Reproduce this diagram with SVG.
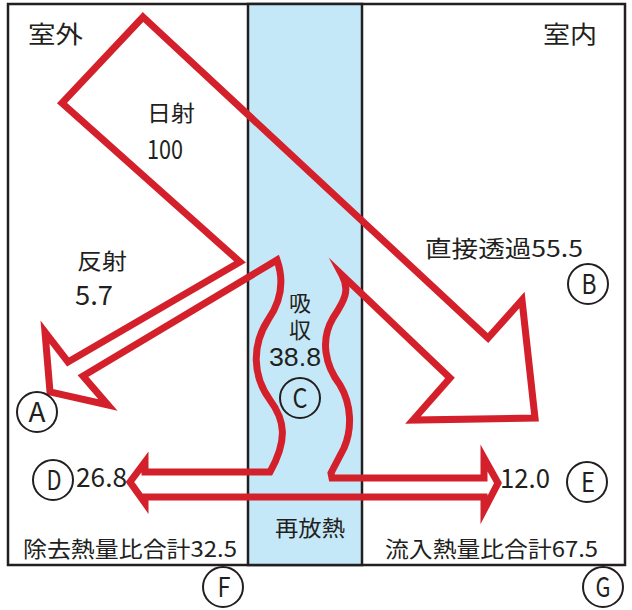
<svg xmlns="http://www.w3.org/2000/svg" width="632" height="610" viewBox="0 0 632 610">
<style>
.t{font-family:"Noto Sans CJK JP","Noto Sans",sans-serif;fill:#231f20;}
.n{font-family:"Liberation Sans","Noto Sans CJK JP",sans-serif;fill:#231f20;}
.v{writing-mode:vertical-rl;letter-spacing:5px;}
.c{fill:none;stroke:#231f20;stroke-width:2;}
.flow{fill:none;stroke:#d4202a;stroke-width:7;stroke-linejoin:miter;stroke-miterlimit:10;}
</style>
<rect width="632" height="610" fill="#ffffff"/>
<g id="frame">
<rect x="8" y="4" width="617" height="561" fill="#ffffff" stroke="#231f20" stroke-width="2.5"/>
<rect x="248" y="4" width="114" height="561" fill="#c5e8f8" stroke="#231f20" stroke-width="2.5"/>
</g>
<g id="connectors">
<path class="flow" d="M143,17 L488,338 L522,300 L535,418 L413,420 L450,378 L342,275 C350,290 345,300 333,318 C320,340 325,365 340,385 C352,405 352,430 344,448 L331,473 L332,478 L484,478 L484,458 L498,483 L484,510 L484,497 L145,497 L145,503 L130,482 L145,462 L145,472 L270,472 C288,440 285,420 270,400 C252,375 252,345 268,320 C282,300 284,280 277,260 L83,376 L108,405 L50,392 L45,332 L68,362 L240,262 L62,103 Z"/>
</g>
<g id="label-outdoor"><text class="t" x="28" y="43" font-size="24" textLength="55" lengthAdjust="spacingAndGlyphs">室外</text></g>
<g id="label-indoor"><text class="t" x="543" y="43" font-size="24" textLength="54" lengthAdjust="spacingAndGlyphs">室内</text></g>
<g id="label-solar">
<text class="t" x="147" y="121" font-size="22" textLength="48" lengthAdjust="spacingAndGlyphs">日射</text>
<text class="t" x="147" y="159" font-size="27" textLength="36" lengthAdjust="spacingAndGlyphs">100</text>
</g>
<g id="label-reflect">
<text class="t" x="77" y="269" font-size="22" textLength="50" lengthAdjust="spacingAndGlyphs">反射</text>
<text class="t" x="75" y="305" font-size="27" textLength="38" lengthAdjust="spacingAndGlyphs">5.7</text>
</g>
<g id="label-direct"><text class="t" x="425" y="257" font-size="23" textLength="158" lengthAdjust="spacingAndGlyphs">直接透過55.5</text></g>
<g id="label-absorb">
<text class="t v" x="300" y="292" font-size="22">吸収</text>
<text class="n" x="269" y="366" font-size="25" textLength="52" lengthAdjust="spacingAndGlyphs">38.8</text>
</g>
<g id="label-d-value"><text class="t" x="76" y="487" font-size="26" textLength="51" lengthAdjust="spacingAndGlyphs">26.8</text></g>
<g id="label-e-value"><text class="t" x="500" y="488" font-size="26" textLength="50" lengthAdjust="spacingAndGlyphs">12.0</text></g>
<g id="label-reradiate"><text class="t" x="275" y="536" font-size="22" textLength="70" lengthAdjust="spacingAndGlyphs">再放熱</text></g>
<g id="label-removed"><text class="t" x="23" y="557" font-size="22" textLength="214" lengthAdjust="spacingAndGlyphs">除去熱量比合計32.5</text></g>
<g id="label-inflow"><text class="t" x="385" y="557" font-size="22" textLength="213" lengthAdjust="spacingAndGlyphs">流入熱量比合計67.5</text></g>
<g id="marker-A"><circle class="c" cx="37" cy="412" r="20"/><text class="t" x="37" y="422" font-size="27" text-anchor="middle" textLength="17" lengthAdjust="spacingAndGlyphs">A</text></g>
<g id="marker-B"><circle class="c" cx="588" cy="284" r="20"/><text class="t" x="589" y="294" font-size="27" text-anchor="middle" textLength="15" lengthAdjust="spacingAndGlyphs">B</text></g>
<g id="marker-C"><circle class="c" cx="300" cy="398" r="20"/><text class="t" x="300" y="408" font-size="27" text-anchor="middle" textLength="15" lengthAdjust="spacingAndGlyphs">C</text></g>
<g id="marker-D"><circle class="c" cx="53" cy="480" r="20"/><text class="t" x="54" y="490" font-size="27" text-anchor="middle" textLength="15" lengthAdjust="spacingAndGlyphs">D</text></g>
<g id="marker-E"><circle class="c" cx="587" cy="482" r="20"/><text class="t" x="588" y="492" font-size="27" text-anchor="middle" textLength="14" lengthAdjust="spacingAndGlyphs">E</text></g>
<g id="marker-F"><circle class="c" cx="223" cy="587" r="20"/><text class="t" x="224" y="597" font-size="27" text-anchor="middle" textLength="13" lengthAdjust="spacingAndGlyphs">F</text></g>
<g id="marker-G"><circle class="c" cx="603" cy="587" r="20"/><text class="t" x="603" y="597" font-size="27" text-anchor="middle" textLength="15" lengthAdjust="spacingAndGlyphs">G</text></g>
</svg>
